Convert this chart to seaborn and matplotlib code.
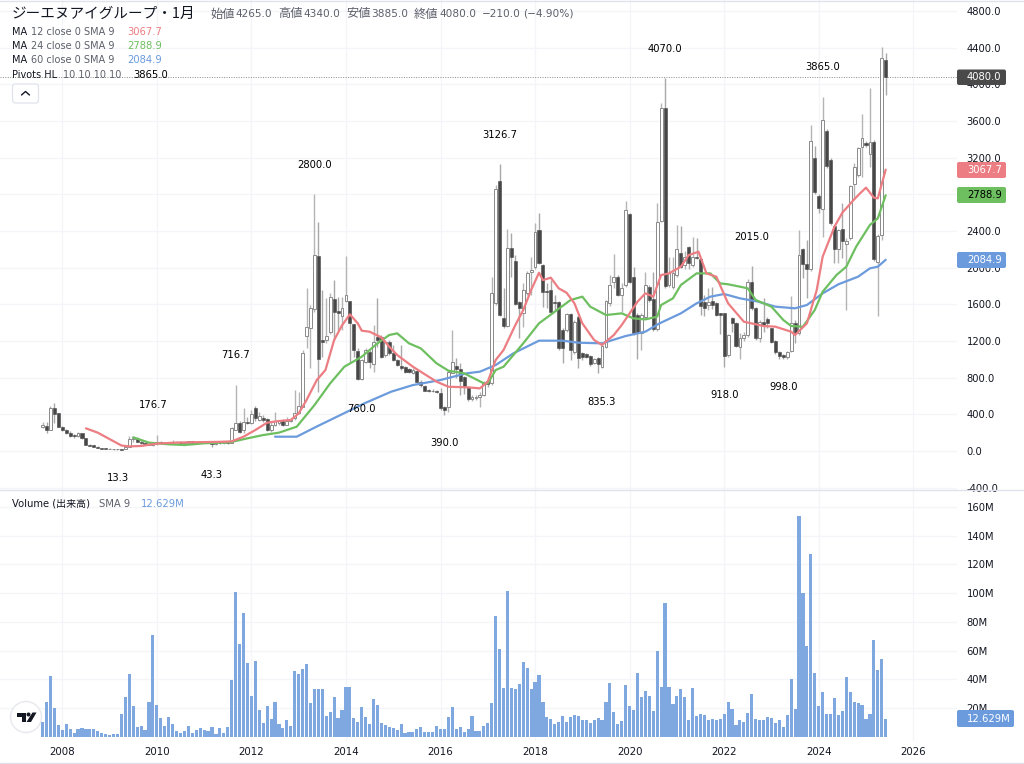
import numpy as np
import matplotlib
matplotlib.use("Agg")
import matplotlib.pyplot as plt
from matplotlib.patches import FancyBboxPatch, Circle, Polygon
from matplotlib.transforms import IdentityTransform
import seaborn as sns

months = np.arange(-5, 210)  # months counted from January 2008

open_vals = [258,276,229,465,411,
258,229,200,170,165,193,138,70,60,47,
32,26,24,20,22,18,25,47,127,127,
102,88,73,62,90,95,88,92,85,100,
95,88,92,105,92,98,90,100,92,78,
90,82,92,91,229,309,229,320,302,465,
338,365,350,229,280,300,327,287,325,356,
411,483,1257,1337,1545,2126,1210,1210,1301,1654,
1526,1472,1639,1635,1385,1094,781,974,1083,945,
1247,1247,1047,1185,1072,992,927,912,890,855,
876,756,708,660,658,652,628,480,483,854,
927,890,803,694,570,578,592,610,767,738,
1610,2944,1446,1366,2210,2075,1621,1501,1726,1955,
2010,2410,2028,1748,1755,1628,1621,1319,1319,1494,
1083,1465,1065,1057,1036,963,1010,919,1137,1617,
1846,1901,1701,1810,2581,1901,1483,1283,1465,1792,
1654,1326,2510,3740,1810,1792,1919,2163,2028,2221,
2028,2112,2094,1629,1590,1636,1610,1501,1501,1047,
1447,1392,1138,1229,1265,1847,1556,1229,1410,1436,
1338,1203,1083,1047,1022,1094,1392,1290,2199,2039,
1985,3190,2784,2635,3493,3173,2454,2199,2421,2257,
2319,2912,3010,3312,3362,3235,3373,2057,2355,4265]

high_vals = [320,320,490,527,411,
275,245,215,185,205,200,145,75,65,50,
36,30,28,26,26,22,50,163,160,150,
115,100,85,95,176.7,105,98,100,115,112,
105,100,110,112,102,108,105,110,98,95,
100,96,100,265,720,330,465,375,447,490,
420,395,365,330,420,340,345,370,360,665,
640,1101,1774,1590,2800,2493,1755,1665,1719,1864,
1683,1683,2126,1640,1390,1119,1000,1119,1100,1374,
1665,1260,1210,1210,1156,1000,1156,925,905,900,
885,770,720,680,675,670,683,490,885,1319,
1010,956,820,700,610,615,640,760,770,1901,
2900,3126.7,1774,2417,2373,2137,1640,1828,1960,2112,
2482,2591,2040,1835,1864,1700,1640,1340,1510,1510,
1430,1480,1080,1070,1045,1010,1020,1160,1650,1919,
2148,1915,1828,2730,2600,2010,1500,1500,1955,1810,
1955,2700,3800,4070,2119,2112,2464,2453,2180,2240,
2337,2319,2110,1701,1774,1792,1620,1510,1510,1275,
1460,1410,1290,1301,1872,2015,1565,1425,1665,1465,
1345,1210,1090,1055,1090,1690,1430,2410,2210,2301,
3555,3326,2800,3865,3510,3190,2470,2420,2708,2320,
2900,3137,3310,3675,3380,3960,3390,2370,4409,4340]

low_vals = [247,193,225,302,260,
215,185,155,140,155,130,60,50,40,28,
22,20,18,16,15,13.3,22,40,100,95,
80,68,62,58,70,85,80,84,78,90,
82,80,85,88,82,86,82,88,43.3,70,
75,72,80,85,225,200,200,290,295,330,
330,320,215,205,275,280,275,280,320,340,
400,475,1119,901,1520,647,1020,1180,1280,1210,
1319,1319,1630,956,1028,774,770,960,900,865,
1137,1010,1030,1050,980,930,885,855,850,845,
750,700,650,640,640,630,447,390,420,850,
800,610,620,550,545,560,480,600,700,720,
1590,1470,1340,1350,1900,1590,1228,1355,1700,1700,
1990,2040,1574,1560,1490,1540,1100,956,1300,992,
1060,901,990,1010,925,945,847,900,1120,1580,
1780,1690,1519,1790,1830,1270,999,1101,1440,1630,
1310,1310,2500,1780,1790,1770,1900,2000,1990,1980,
2010,2090,1483,1472,1540,1550,1470,1280,918,1030,
1300,1130,999,1200,1245,1540,1215,1190,1300,1340,
1180,1060,1000,998,1000,1080,1174,1270,1883,1665,
1965,2800,2592,2337,3090,2470,2046,2050,2100,1538,
2300,2760,2990,2990,3320,3100,2070,1472,2300,3885]

close_vals = [283,229,465,400,265,
229,200,165,160,193,138,65,55,45,30,
26,24,20,22,18,16,47,127,138,102,
88,73,70,90,95,88,92,85,100,95,
88,92,105,92,98,90,100,92,78,90,
82,92,88,247,309,211,320,305,400,355,
380,338,230,280,327,330,283,327,335,410,
494,1065,1356,1556,2137,999,1185,1257,1675,1519,
1500,1556,1701,1392,1101,781,992,1101,974,1192,
1210,1021,1192,1072,992,938,901,865,858,883,
756,720,658,655,650,646,465,450,865,974,
890,767,701,563,585,592,610,738,735,1719,
2853,1483,1366,2210,2112,1603,1555,1755,1944,1973,
2391,2046,1737,1737,1519,1610,1119,1119,1494,1101,
1410,1010,1021,1028,948,999,948,1145,1635,1810,
1901,1701,1774,2628,1846,1283,1283,1483,1810,1646,
1326,2500,3740,1799,1944,1944,2199,2010,2119,2046,
2112,2100,1585,1556,1629,1592,1483,1483,1036,1265,
1392,1145,1236,1265,1847,1556,1229,1410,1375,1392,
1192,1083,1036,1022,1083,1392,1290,2137,2039,1985,
3381,2828,2654,3610,3108,2483,2199,2410,2294,2290,
2890,3093,3300,3410,3340,3373,2090,2348,4282,4080]

volume_vals = [10.4,24.6,42.7,20,8.1,5,9,5.8,2.8,5.3,6,5.6,5.8,5.8,4.2,2.8,2.3,1.4,2.3,1.9,
16.2,27.6,43.9,21.6,7,7.9,4.6,24.6,70.8,22.5,13.2,7.9,14.2,8.8,4.4,2.8,3.9,7.9,2.8,4.9,
6,4.9,3.9,6.7,2.3,6,2.8,6.7,39.7,100.9,64.5,86.5,51.3,28.3,53.1,19,9.5,21.3,12.3,24.6,
9,6.3,11.6,7.4,45.7,43.6,47.1,50.6,23.7,33.4,33.4,33.2,14.4,17.2,27.6,13.2,
18.6,34.6,34.6,13.5,10.2,20.9,13.7,8.8,26.2,22,9.5,8.6,7,6.5,4.9,9,2.8,3.7,3.7,5.3,
7,3.7,3.7,3.7,7.4,5.3,5.3,13.7,20.9,5.3,7,3.5,5.3,14.4,3.9,3.9,7.4,9.5,23.9,84.2,
61,33.9,101.9,34.3,33.4,36.7,52,47.8,33.2,38,43.2,24.6,14.2,12.3,8.8,10.2,14.6,10.4,14.2,15.3,
14.8,11.6,11.6,9.5,12.1,13.2,11.6,24.6,37.4,17.2,9,10.9,36.4,21.6,18.6,44.3,27.8,32,28.8,18.3,
60,35,93.3,35,23.2,28.8,33.2,27.6,11.6,33.9,14.8,15.8,15.3,11.6,12.8,11.6,12.3,16.2,24.1,19.5,
8.1,12.1,10.4,16.7,29.7,12.5,11.6,12.1,13.7,13.5,10,12.1,6.7,15.3,40.1,19.7,153.8,100.5,63.1,127.6,
44.3,21.3,31.6,15.8,16.2,27.1,15.1,17.9,41.5,31.3,24.1,23.9,22,12.5,16.2,67.7,46.9,54.5,12.63]

ma12_x = [6,9,12,15,17,20,24,28,32,36,40,43,46,49,52,55,58,60,62,64.6,66.8,69,71,73,75,76,78,81,83,85,89,93,95,98,103,106,108,
          110,112,115,117,119,121,122,124,126,128,130,132,135,137,140,142,144,146,148,150,152,154,157,159,161.5,163.5,166,169,173,
          178,181,185,186,189,191.5,193,196,198,201,202.5,204,206,207,209]
ma12_y = [247,200,130,60,50,55,80,90,95,97,100,105,156,229,309,327,338,410,556,774,883,1210,1370,1490,1392,1312,1301,1239,1137,1047,919,810,756,701,694,683,756,
          992,1101,1374,1537,1755,1944,1864,1890,1774,1726,1610,1392,1210,1156,1265,1374,1501,1628,1719,1683,1919,1937,2010,2137,2173,1937,1901,1610,1410,
          1363,1356,1301,1265,1392,1756,2119,2446,2599,2744,2810,2872,2763,2755,3067.7]

ma24_x = [18,22,27,31,36,42.5,47,51,55,59.5,64,68,71.6,76,80,83,85,88,91,95,98,102,107,108,110,112,117,121,125,129,132,134,138,142,145,148,151,152,155,157,
          161,164.5,167,169,172,174,176,180,183,185,188,191,193,196.5,199,201.5,205,207,209]
ma24_y = [149,91,73,65,84,95,138,174,200,265,500,738,919,1028,1174,1265,1283,1174,1119,956,876,847,738,738,883,919,1174,1392,1519,1646,1683,1574,1483,1501,1446,1435,1465,1592,1665,1810,
          1937,1937,1828,1818,1792,1774,1647,1574,1429,1363,1356,1538,1737,1919,2010,2228,2465,2537,2788.9]

ma60_x = [54,59.5,64.5,68,76.7,83.5,89,96,102.6,106,110,114.5,121,127,131,137,143,148,151.6,157,161,164.5,168,172,176.6,181,186,189,193,197,202,205,207,209]
ma60_y = [156,156,265,338,520,647,719,774,847,865,937,1065,1203,1203,1181,1174,1254,1301,1392,1501,1610,1683,1712,1665,1629,1574,1556,1592,1719,1818,1901,1992,2010,2084.9]

price_ticks = [-400, 0, 400, 800, 1200, 1600, 2000, 2400, 2800, 3200, 3600, 4000, 4400, 4800]
volume_ticks = [20, 40, 60, 80, 100, 120, 140, 160]
year_labels = ["2008", "2010", "2012", "2014", "2016", "2018", "2020", "2022", "2024", "2026"]
year_months = [0, 24, 48, 72, 96, 120, 144, 168, 192, 216]

pivot_labels = ["13.3", "176.7", "43.3", "716.7", "2800.0", "760.0", "390.0", "3126.7",
                "835.3", "4070.0", "918.0", "2015.0", "998.0", "3865.0"]
pivot_month = [14, 23, 38, 44, 64, 76, 97, 111, 137, 153, 168, 175, 183, 193]
pivot_level = [-294, 502, -262, 1047, 3119, 458, 87, 3446, 534, 4384, 611, 2334, 698, 4188]

RED, GREEN, BLUE = "#ec7d82", "#6dbf5f", "#6b9bdc"
BAR_BLUE = "#80a8e0"
GRID = "#f4f5f9"
TEXT = "#131722"
MUTED = "#5d606b"

sns.set_theme(style="white")
plt.rcParams["font.family"] = ["DejaVu Sans", "Noto Sans CJK JP"]

W, H = 1024, 764
fig = plt.figure(figsize=(W / 100, H / 100), dpi=100, facecolor="white")


def pane(left, top, right, bottom):
    return fig.add_axes([left / W, 1 - bottom / H, (right - left) / W, (bottom - top) / H])


ax = pane(0, 0, 957, 490)
ax_v = pane(0, 490, 957, 741)

X_LIM = (-15.81, 227.1)
opens, highs, lows, closes = map(np.array, (open_vals, high_vals, low_vals, close_vals))
up = closes >= opens
body_bottom = np.minimum(opens, closes)
body_height = np.maximum(np.abs(closes - opens), 5)

ax.vlines(months[up], lows[up], highs[up], color="#b4b4b4", lw=1.0, zorder=2)
ax.vlines(months[~up], lows[~up], highs[~up], color="#a8a8a8", lw=1.0, zorder=2)
ax.bar(months[up], body_height[up], bottom=body_bottom[up], width=0.72, color="white",
       edgecolor="#8a8a8a", linewidth=0.7, zorder=3)
ax.bar(months[~up], body_height[~up], bottom=body_bottom[~up], width=0.78, color="#474747",
       edgecolor="#474747", linewidth=0.4, zorder=3)

for xs, ys, col in ((ma60_x, ma60_y, BLUE), (ma24_x, ma24_y, GREEN), (ma12_x, ma12_y, RED)):
    sns.lineplot(x=xs, y=ys, color=col, lw=1.6, ax=ax, sort=False, errorbar=None, legend=False, zorder=4)

ax.axhline(close_vals[-1], color="#8a8a8a", lw=0.7, ls=(0, (1, 1.5)), zorder=1)

for label, mx, lvl in zip(pivot_labels, pivot_month, pivot_level):
    ax.text(mx, lvl, label, ha="center", va="center", fontsize=7.2, color="black", zorder=5)

sns.barplot(x=months, y=volume_vals, native_scale=True, color=BAR_BLUE, saturation=1,
            width=0.8, linewidth=0, ax=ax_v, zorder=3)

ax.set_xlim(*X_LIM)
ax.set_ylim((451 - 490) / 0.0917, 451 / 0.0917)
ax_v.set_xlim(*X_LIM)
ax_v.set_ylim(-2.8, (737 - 490) / 1.4375)

for a in (ax, ax_v):
    a.set_xticks(year_months)
    a.grid(True, color=GRID, lw=0.9)
    a.set_axisbelow(True)
    a.yaxis.tick_right()
    a.tick_params(axis="both", length=0, labelsize=7.2, colors=TEXT)
    a.tick_params(axis="y", pad=7)
    a.set_xlabel("")
    a.set_ylabel("")
    for s in a.spines.values():
        s.set_visible(False)

ax.tick_params(axis="x", labelbottom=False)
ax.set_yticks(price_ticks)
ax.set_yticklabels([f"{v:.1f}" for v in price_ticks])
ax_v.set_yticks(volume_ticks)
ax_v.set_yticklabels([f"{v}M" for v in volume_ticks])
ax_v.set_xticks(year_months)
ax_v.set_xticklabels(year_labels, fontsize=7.4, color=TEXT, fontweight="medium")
ax_v.tick_params(axis="x", pad=4)

# pane separators
fig.add_artist(plt.Line2D([0, 1], [1 - 490 / H, 1 - 490 / H], color="#e0e3eb", lw=1.0))
fig.add_artist(plt.Line2D([0, 1], [1 - 763 / H, 1 - 763 / H], color="#e0e3eb", lw=1.0))
fig.add_artist(plt.Line2D([0, 1], [1 - 0.5 / H, 1 - 0.5 / H], color="#e0e3eb", lw=1.0))


def put(x, y, s, **kw):
    kw.setdefault("va", "center")
    kw.setdefault("ha", "left")
    return fig.text(x / W, 1 - y / H, s, zorder=10, **kw)


def tag(left, right, top, bottom, s, face, fg="white"):
    fig.add_artist(FancyBboxPatch((left, H - bottom), right - left, bottom - top,
                                  boxstyle="round,pad=0,rounding_size=2", fc=face, ec="none",
                                  transform=IdentityTransform(), zorder=9))
    put(left + 10, (top + bottom) / 2, s, color=fg, fontsize=7.2)


tag(957, 1006, 69.5, 85, "4080.0", "#4a4a4a")
tag(957, 1006, 162, 178, "3067.7", RED)
tag(957, 1006, 187, 203, "2788.9", GREEN, "black")
tag(957, 1006, 252, 268, "2084.9", BLUE)
tag(957, 1014, 710, 727, "12.629M", BLUE)

JP = ["Noto Sans CJK JP", "DejaVu Sans"]
put(12, 14, "ジーエヌアイグループ・1月", fontsize=10.5, color=TEXT, family=JP)
ohlc_names = ["始値", "高値", "安値", "終値"]
ohlc_texts = ["4265.0", "4340.0", "3885.0", "4080.0"]
for x0, nm, val in zip((210, 278, 346, 414), ohlc_names, ohlc_texts):
    put(x0, 14, nm, fontsize=8.8, color=MUTED, family=JP)
    put(x0 + 25.5, 14, val, fontsize=7.6, color=MUTED)
put(482, 14, "−210.0", fontsize=7.6, color=MUTED)
put(523, 14, "(−4.90%)", fontsize=7.6, color=MUTED)
for y, name, params, val, col in ((32, "MA", "12 close 0 SMA 9", "3067.7", RED),
                                  (46, "MA", "24 close 0 SMA 9", "2788.9", GREEN),
                                  (60, "MA", "60 close 0 SMA 9", "2084.9", BLUE)):
    put(12, y, name, fontsize=7.0, color=TEXT)
    put(31, y, params, fontsize=7.0, color=MUTED)
    put(127, y, val, fontsize=7.2, color=col)
put(12, 75, "Pivots HL", fontsize=7.0, color=TEXT)
put(63, 75, "10 10 10 10", fontsize=7.0, color=MUTED)
put(133, 75, "3865.0", fontsize=7.2, color="black")
put(12, 504, "Volume (出来高)", fontsize=7.2, color=TEXT)
put(99, 504, "SMA 9", fontsize=7.2, color=MUTED)
put(141, 504, "12.629M", fontsize=7.2, color=BLUE)

# collapse button
fig.add_artist(FancyBboxPatch((12.5, H - 103), 26, 19, boxstyle="round,pad=0,rounding_size=3",
                              fc="white", ec="#e0e3eb", lw=0.9, transform=IdentityTransform(), zorder=9))
fig.add_artist(plt.Line2D([21.5, 25.5, 29.5], [H - 95, H - 91.5, H - 95], color=TEXT, lw=1.0,
                          transform=IdentityTransform(), zorder=10))

# chart-library mark
fig.add_artist(Circle((26, H - 717), 15.5, fc="white", ec="#e6e8ee", lw=1.0,
                      transform=IdentityTransform(), zorder=9))
logo = "#131722"
fig.add_artist(Polygon([(16.5, H - 712.5), (26, H - 712.5), (26, H - 722), (21.5, H - 722), (21.5, H - 716.5), (16.5, H - 716.5)],
                       fc=logo, ec="none", transform=IdentityTransform(), zorder=10))
fig.add_artist(Circle((28.5, H - 714.5), 2.0, fc=logo, ec="none", transform=IdentityTransform(), zorder=10))
fig.add_artist(Polygon([(32.5, H - 712.5), (36.5, H - 712.5), (31, H - 722), (26.5, H - 722)],
                       fc=logo, ec="none", transform=IdentityTransform(), zorder=10))

fig.savefig("out.png", dpi=100, facecolor="white")
